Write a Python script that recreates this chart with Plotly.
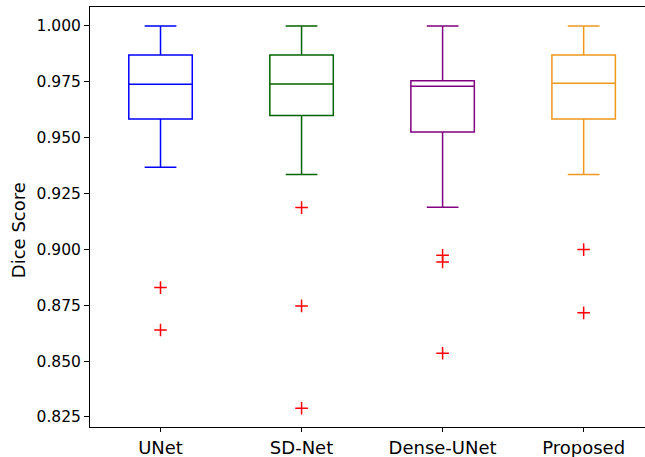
import plotly.graph_objects as go

categories = ["UNet", "SD-Net", "Dense-UNet", "Proposed"]
q1 = [0.9584, 0.9599, 0.9526, 0.9584]
median = [0.9739, 0.9740, 0.9730, 0.9744]
q3 = [0.9870, 0.9870, 0.9755, 0.9870]
lower_whisker = [0.9368, 0.9335, 0.9189, 0.9335]
upper_whisker = [1.0000, 1.0000, 1.0000, 1.0000]
outliers = [
    [0.8829, 0.8639],
    [0.9187, 0.8747, 0.8289],
    [0.8974, 0.8944, 0.8535],
    [0.8999, 0.8716],
]
y_ticks = [0.825, 0.85, 0.875, 0.9, 0.925, 0.95, 0.975, 1.0]
colors = ["#0000ff", "#006400", "#800080", "#f0981c"]

fig = go.Figure()
for i, cat in enumerate(categories):
    fig.add_trace(go.Box(
        x=[cat], q1=[q1[i]], median=[median[i]], q3=[q3[i]],
        lowerfence=[lower_whisker[i]], upperfence=[upper_whisker[i]],
        boxpoints=False, width=0.45, whiskerwidth=0.5,
        fillcolor="rgba(255,255,255,0)",
        line=dict(color=colors[i], width=1.5),
        showlegend=False, hoverinfo="skip",
    ))
    fig.add_trace(go.Scatter(
        x=[cat] * len(outliers[i]), y=outliers[i], mode="markers",
        marker=dict(symbol="cross-thin", size=9,
                    line=dict(color="red", width=1.5), color="red"),
        showlegend=False, hoverinfo="skip",
    ))

font = "DejaVu Sans, sans-serif"
fig.update_layout(
    width=645, height=457,
    margin=dict(l=90, r=0, t=7, b=30, autoexpand=False),
    plot_bgcolor="white", paper_bgcolor="white",
    font=dict(family=font, color="black"),
    xaxis=dict(
        type="category", categoryorder="array", categoryarray=categories,
        range=[-0.5, 3.435], automargin=False,
        showline=True, linecolor="black", linewidth=1, mirror=True,
        ticks="outside", ticklen=4, tickcolor="black",
        showgrid=False, zeroline=False,
        tickfont=dict(size=18, family=font),
    ),
    yaxis=dict(
        range=[0.8205, 1.0085], automargin=False,
        tickvals=y_ticks,
        tickformat=".3f",
        showline=True, linecolor="black", linewidth=1,
        ticks="outside", ticklen=5, tickcolor="black",
        showgrid=False, zeroline=False,
        tickfont=dict(size=15.5, family=font),
    ),
    annotations=[dict(
        text="Dice Score", textangle=-90, showarrow=False,
        xref="paper", yref="paper", x=-0.1295, y=0.469,
        xanchor="center", yanchor="middle",
        font=dict(size=18, family=font),
    )],
)

fig.write_html(
    "out.html",
    config={"displayModeBar": False, "staticPlot": True},
    post_script="document.body.style.margin='0';document.body.style.overflow='hidden';",
)
